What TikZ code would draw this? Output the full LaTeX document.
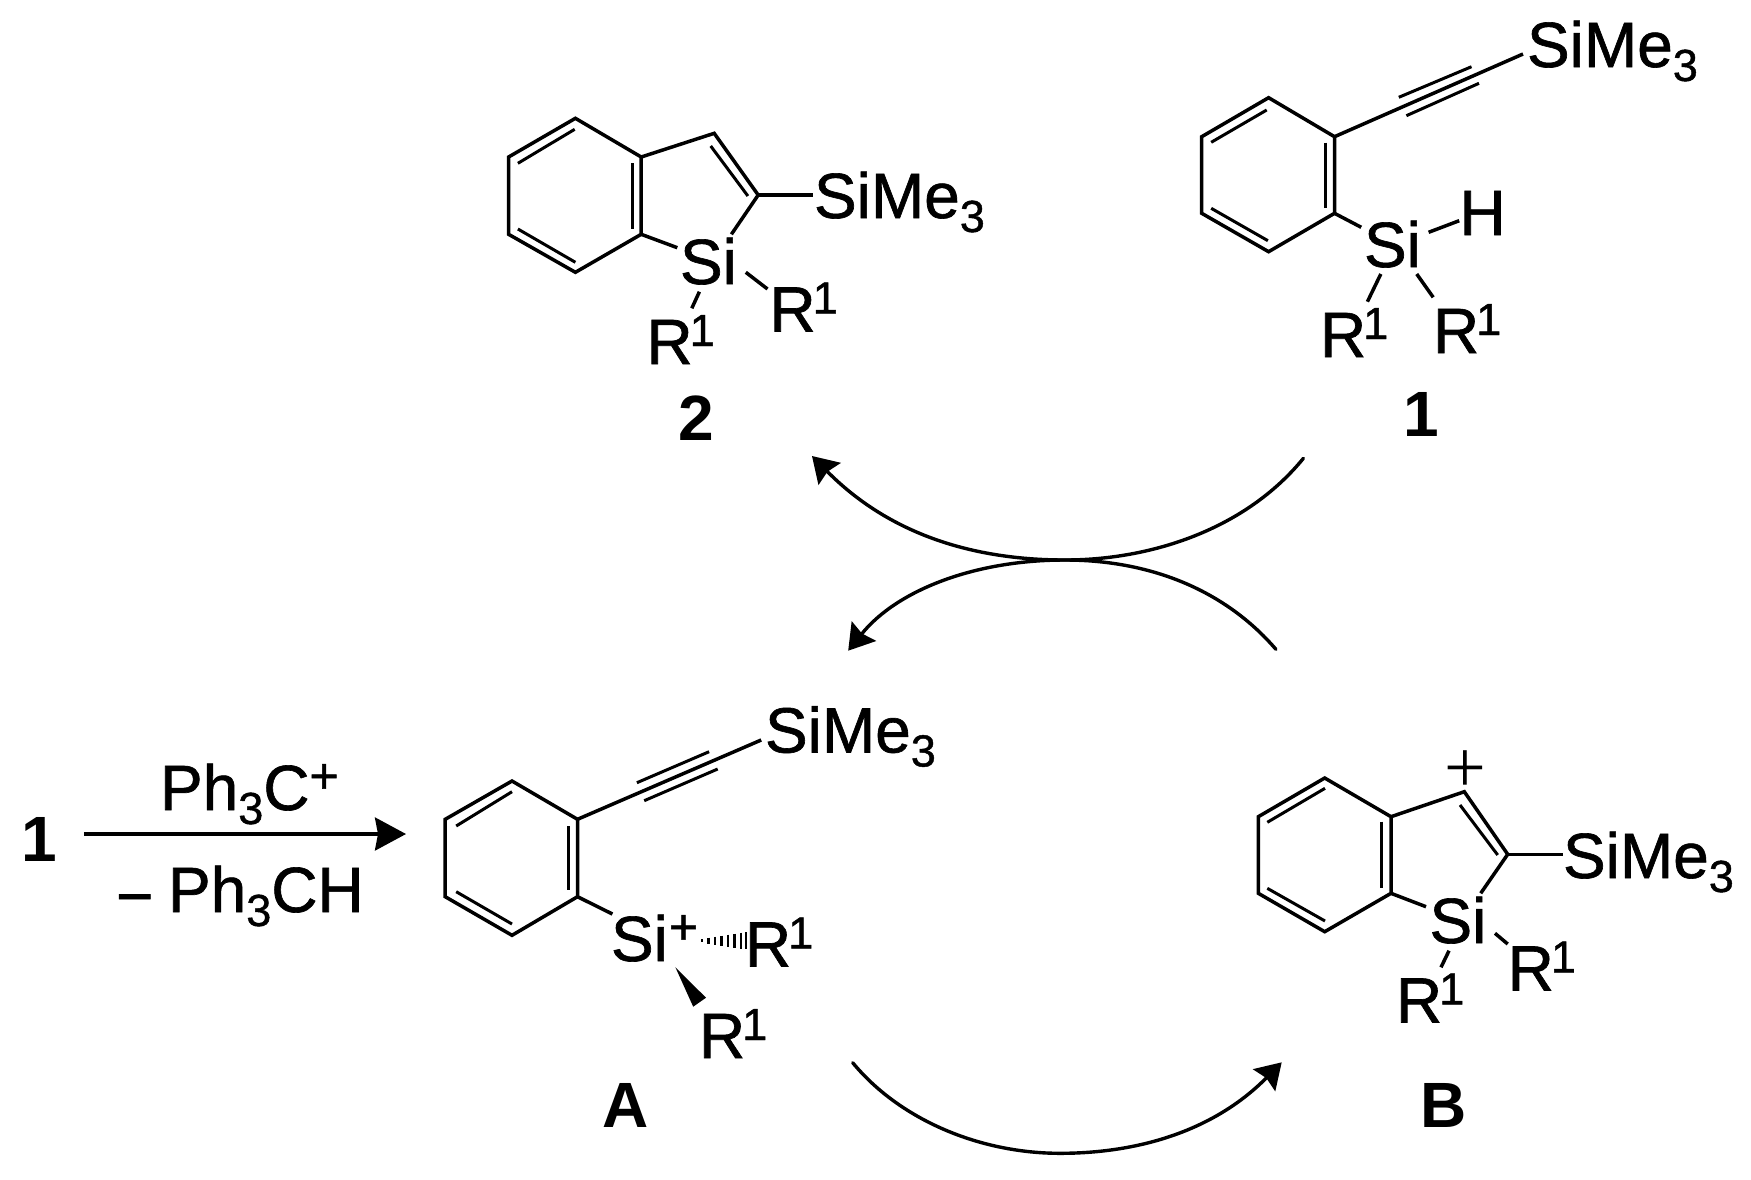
\documentclass[tikz,border=0pt]{standalone}
\usepackage{fontspec}
\setmainfont{Liberation Sans}
\newfontfamily\plusfont{Liberation Serif}
\newfontfamily\chemfont[FakeBold=1]{Liberation Sans}
\usetikzlibrary{arrows.meta}
\newcommand{\chemsub}[1]{\raisebox{-14pt}{\fontsize{45}{45}\selectfont #1}}
\newcommand{\chemsup}[1]{\kern-3pt\raisebox{18pt}{\fontsize{45}{45}\selectfont #1}}
\newcommand{\chemplus}{\raisebox{17pt}{\fontsize{50}{50}\selectfont +}}
\newcommand{\chemR}{R\chemsup{1}}
\newcommand{\chemTms}{SiMe\chemsub{3}}
\tikzset{
  lbl/.style={anchor=base west,inner sep=0pt,outer sep=0pt,font=\fontsize{64}{70}\chemfont},
  cpd/.style={anchor=base west,inner sep=0pt,outer sep=0pt,font=\fontsize{64}{70}\selectfont\bfseries},
  bond/.style={line width=3.5pt,line cap=butt,line join=miter},
  dbl/.style={line width=3pt,line cap=butt},
  curved/.style={line width=3.4pt,line cap=round,-{Stealth[length=25pt,width=31pt,inset=3pt]}},
  plain/.style={line width=3pt,line cap=round}
}
\begin{document}
\begin{tikzpicture}[x=1pt,y=-1pt]
\fill[white] (0,0) rectangle (1751,1179);
\useasboundingbox (0,0) rectangle (1751,1179);

% ===== compound 1 =====
\coordinate (oa) at (1268.6,97.7);
\coordinate (ob) at (1334.5,136.7);
\coordinate (oc) at (1334.5,213.3);
\coordinate (od) at (1268.6,251.7);
\coordinate (oe) at (1201.7,213.3);
\coordinate (of) at (1201.7,136.7);
\coordinate (otms) at (1523,54);
\coordinate (osi) at (1361.2,227.3);
\draw[bond] (oa)--(ob)--(oc)--(od)--(oe)--(of)--cycle;
\draw[bond] (ob)--(otms);
\draw[bond] (oc)--(osi);
\coordinate (ot1) at (1398.8,97.3); \coordinate (ot2) at (1471.5,66.7);
\coordinate (ot3) at (1406.4,115.7); \coordinate (ot4) at (1479,83.3);
\draw[dbl] (ot1)--(ot2); \draw[dbl] (ot3)--(ot4);
\coordinate (oi1) at (1325.3,142.7); \coordinate (oi2) at (1325.3,208.3);
\coordinate (oi3) at (1211.2,142.3); \coordinate (oi4) at (1266.7,110);
\coordinate (oi5) at (1211.2,208.3); \coordinate (oi6) at (1267.9,240.7);
\draw[dbl] (oi1)--(oi2); \draw[dbl] (oi3)--(oi4); \draw[dbl] (oi5)--(oi6);
\node[lbl] (oTms) at (1527,67) {\chemTms};
\node[lbl] (oSi) at (1364,267) {Si};
\node[lbl] (oH) at (1459.5,235) {H};
\node[lbl] (oR1) at (1320,357) {\chemR};
\node[lbl] (oR2) at (1433,353) {\chemR};
\node[cpd] (oLab) at (1403,436) {1};
\coordinate (ob1) at (1428.6,232.3); \coordinate (ob2) at (1459.2,220.7);
\coordinate (ob3) at (1380.8,274); \coordinate (ob4) at (1367.4,301.7);
\coordinate (ob5) at (1416.7,274); \coordinate (ob6) at (1433.2,297.3);
\draw[bond] (ob1)--(ob2); \draw[bond] (ob3)--(ob4); \draw[bond] (ob5)--(ob6);

% ===== compound 2 =====
\coordinate (ta) at (575.4,118.3);
\coordinate (tb) at (641.2,157);
\coordinate (tc) at (641.2,234.3);
\coordinate (td) at (575.4,272.3);
\coordinate (te) at (508.6,234.3);
\coordinate (tf) at (508.6,157);
\coordinate (tg) at (714.2,133.3);
\coordinate (th) at (758.2,195);
\draw[bond] (ta)--(tb)--(tc)--(td)--(te)--(tf)--cycle;
\draw[bond] (tb)--(tg)--(th);
\coordinate (ts1) at (677.3,247.7); \coordinate (ts2) at (731.4,234.3); \coordinate (ts3) at (813.3,195);
\draw[bond] (tc)--(ts1); \draw[bond] (th)--(ts2); \draw[bond] (th)--(ts3);
\coordinate (ti1) at (632.5,163.3); \coordinate (ti2) at (632.5,229.3);
\coordinate (ti3) at (517.9,163.3); \coordinate (ti4) at (574.7,129.3);
\coordinate (ti5) at (517.9,229); \coordinate (ti6) at (575.4,262.3);
\coordinate (ti7) at (710.7,146); \coordinate (ti8) at (747.9,196);
\draw[dbl] (ti1)--(ti2); \draw[dbl] (ti3)--(ti4); \draw[dbl] (ti5)--(ti6); \draw[dbl] (ti7)--(ti8);
\node[lbl] (tTms) at (814,218) {\chemTms};
\node[lbl] (tSi) at (680,284) {Si};
\node[lbl] (tR1) at (646.5,364) {\chemR};
\node[lbl] (tR2) at (769.5,331.5) {\chemR};
\node[cpd] (tLab) at (678,440) {2};
\coordinate (tb1) at (699.4,291.7); \coordinate (tb2) at (691.8,308.3);
\coordinate (tb3) at (745.8,272.3); \coordinate (tb4) at (767.5,289);
\draw[bond] (tb1)--(tb2); \draw[bond] (tb3)--(tb4);

% ===== compound A =====
\coordinate (aa) at (512,781);
\coordinate (ab) at (577.5,819.3);
\coordinate (ac) at (577.5,896.7);
\coordinate (ad) at (512,935.3);
\coordinate (ae) at (445.2,896.7);
\coordinate (af) at (445.2,819.3);
\coordinate (atms) at (761.2,740);
\coordinate (asi) at (612.4,914);
\draw[bond] (aa)--(ab)--(ac)--(ad)--(ae)--(af)--cycle;
\draw[bond] (ab)--(atms);
\draw[bond] (ac)--(asi);
\coordinate (at1) at (636.9,782.7); \coordinate (at2) at (709.1,751.7);
\coordinate (at3) at (644.2,800.7); \coordinate (at4) at (717.7,769);
\draw[dbl] (at1)--(at2); \draw[dbl] (at3)--(at4);
\coordinate (ai1) at (568.3,826); \coordinate (ai2) at (568.3,890);
\coordinate (ai3) at (456.2,826); \coordinate (ai4) at (512,791.7);
\coordinate (ai5) at (456.2,891.7); \coordinate (ai6) at (512,924);
\draw[dbl] (ai1)--(ai2); \draw[dbl] (ai3)--(ai4); \draw[dbl] (ai5)--(ai6);
\node[lbl] (aTms) at (765,752.5) {\chemTms};
\node[lbl] (aSi) at (611,961) {Si\kern1pt\chemplus};
\node[lbl] (aR1) at (745,966.5) {\chemR};
\node[lbl] (aR2) at (699,1058) {\chemR};
\node[cpd] (aLab) at (602,1127.5) {A};
\foreach \i/\xa/\ha in {0/702/1.5,1/708.5/3,2/715/4,3/721.5/5,4/728/6,5/734.5/7,6/741/8,7/746/8.5}{
  \draw[line width=2.6pt] (\xa,940.7-\ha)--(\xa,940.7+\ha);
}
\coordinate (aw1) at (675.4,967.3); \coordinate (aw2) at (706,997.7); \coordinate (aw3) at (693.2,1006.7);
\fill (aw1)--(aw2)--(aw3)--cycle;

% ===== compound B =====
\coordinate (ba) at (1324.7,778);
\coordinate (bb) at (1391,816.7);
\coordinate (bc) at (1391,893.3);
\coordinate (bd) at (1324.7,931.7);
\coordinate (be) at (1258.3,893.3);
\coordinate (bf) at (1258.3,816.7);
\coordinate (bg) at (1464.3,791.7);
\coordinate (bh) at (1507.7,854.3);
\draw[bond] (ba)--(bb)--(bc)--(bd)--(be)--(bf)--cycle;
\draw[bond] (bb)--(bg)--(bh);
\coordinate (bs1) at (1426,906.7); \coordinate (bs2) at (1480.7,893.3); \coordinate (bs3) at (1562.7,854.3);
\draw[bond] (bc)--(bs1); \draw[bond] (bh)--(bs2); \draw[bond] (bh)--(bs3);
\coordinate (bi1) at (1381.7,821.7); \coordinate (bi2) at (1381.7,888.3);
\coordinate (bi3) at (1267.3,822.3); \coordinate (bi4) at (1325,788.3);
\coordinate (bi5) at (1267.3,888.3); \coordinate (bi6) at (1325,921);
\coordinate (bi7) at (1460,805); \coordinate (bi8) at (1497.7,855);
\draw[dbl] (bi1)--(bi2); \draw[dbl] (bi3)--(bi4); \draw[dbl] (bi5)--(bi6); \draw[dbl] (bi7)--(bi8);
\node[lbl] (bTms) at (1563,878) {\chemTms};
\node[lbl] (bSi) at (1429.5,943) {Si};
\node[lbl] (bR1) at (1396,1022.5) {\chemR};
\node[lbl] (bR2) at (1507.7,990.5) {\chemR};
\node[cpd] (bLab) at (1420,1127) {B};
\node[anchor=center,inner sep=0pt,font=\fontsize{74}{80}\plusfont] (bPlus) at (1465.3,771.7) {+};
\coordinate (bb1) at (1449,950.7); \coordinate (bb2) at (1441,967.3);
\coordinate (bb3) at (1495,933.3); \coordinate (bb4) at (1507.7,944);
\draw[bond] (bb1)--(bb2); \draw[bond] (bb3)--(bb4);

% ===== reaction arrow =====
\node[cpd] (sLab) at (21,861) {1};
\node[lbl] (sTop) at (160,810) {Ph\chemsub{3}C\chemplus};
\node[lbl] (sMinus) at (116,918) {−};
\node[lbl] (sBot) at (168,912) {Ph\chemsub{3}CH};
\coordinate (sa) at (83.9,834);
\coordinate (sb) at (406,834);
\draw[line width=3.2pt,-{Stealth[length=31pt,width=33pt,inset=3pt]}] (sa)--(sb);

% ===== curved arrows =====
\coordinate (c1a) at (1303.4,458.3);
\coordinate (c1m) at (1065,560);
\coordinate (c1b) at (812,456);
\draw[curved] (c1a) .. controls (1245,530) and (1150,560) .. (c1m)
              .. controls (980,560) and (893,538) .. (c1b);
\coordinate (c2a) at (1275.9,649.3);
\coordinate (c2m) at (1065,560);
\coordinate (c2b) at (848.2,650.7);
\draw[curved] (c2a) .. controls (1225,590) and (1150,560) .. (c2m)
              .. controls (975,560) and (897,590) .. (c2b);
\coordinate (c3a) at (852.7,1062.7);
\coordinate (c3m) at (1060,1153.3);
\coordinate (c3b) at (1281.7,1062.3);
\draw[curved] (c3a) .. controls (900,1120) and (980,1153.3) .. (c3m)
              .. controls (1140,1153.3) and (1215,1130) .. (c3b);
\end{tikzpicture}
\end{document}
